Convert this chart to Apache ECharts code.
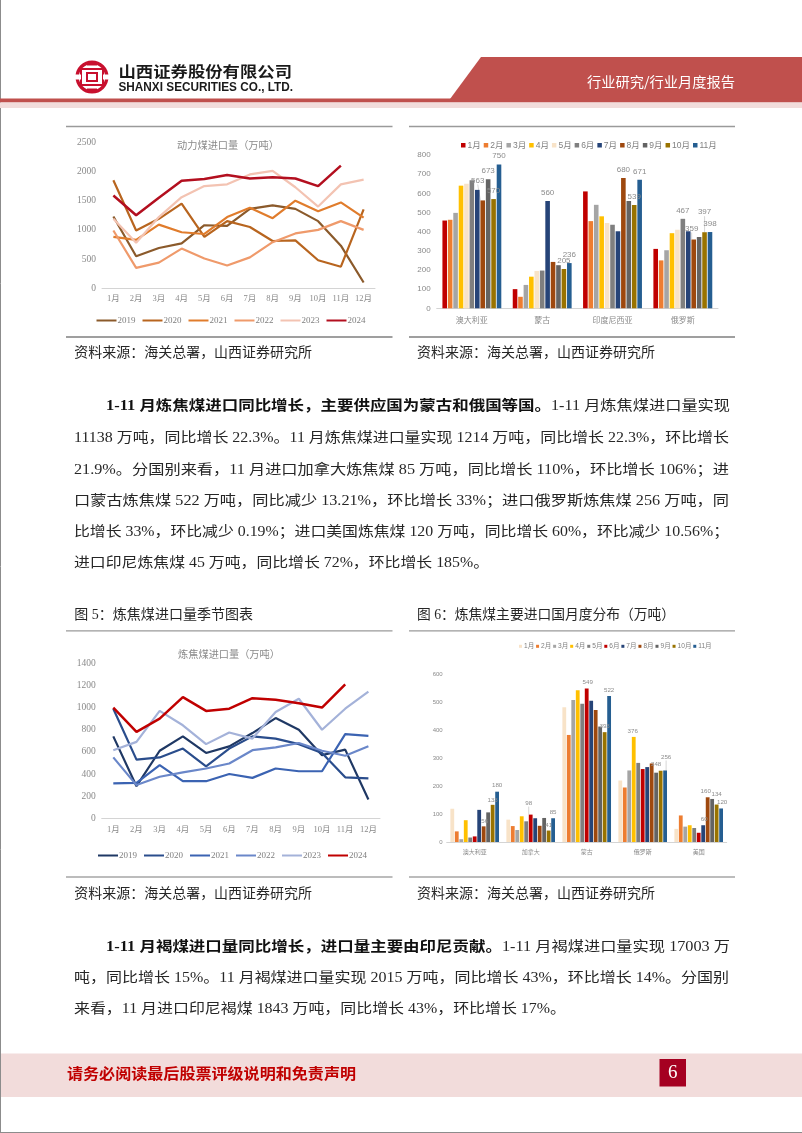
<!DOCTYPE html>
<html><head><meta charset="utf-8">
<style>html,body{margin:0;padding:0;background:#fff}#c{width:802px;height:1133px}</style>
<script src="https://cdn.jsdelivr.net/npm/echarts@6/dist/echarts.min.js"></script>
</head><body><div id="c"></div>
<script>
// ---------- data ----------
const months12 = ['1月','2月','3月','4月','5月','6月','7月','8月','9月','10月','11月','12月'];
const months11 = months12.slice(0, 11);
const years = ['2019','2020','2021','2022','2023','2024'];

const thermal2019 = [1230,550,690,770,1080,1070,1360,1420,1360,1150,730,100];
const thermal2020 = [1850,990,1190,1450,880,1150,1050,810,820,480,370,1350];
const thermal2021 = [880,830,1090,960,930,1220,1380,1200,1500,1320,1470,1210];
const thermal2022 = [990,350,440,680,510,390,530,790,940,1000,1150,1000];
const thermal2023 = [1190,780,1220,1560,1750,1780,1950,2010,1730,1400,1780,1860];
const thermal2024 = [1590,1250,1550,1840,1870,1940,1880,1900,1880,1750,2100];

const coking2019 = [740,290,610,740,590,650,770,905,800,570,620,170];
const coking2020 = [990,530,550,630,470,630,740,720,670,590,370,360];
const coking2021 = [315,320,480,335,335,400,365,450,425,425,760,745];
const coking2022 = [550,300,375,415,450,495,615,640,680,610,565,650];
const coking2023 = [615,690,970,840,670,775,720,960,1080,800,990,1145];
const coking2024 = [1000,780,900,1095,970,990,1085,1070,1040,1000,1210];

const thermalCountries = ['澳大利亚','蒙古','印度尼西亚','俄罗斯'];
const thermalAustralia = [458,462,498,640,650,668,618,563,673,570,750];
const thermalMongolia  = [100,60,122,165,195,197,560,242,225,205,236];
const thermalIndonesia = [610,455,540,480,445,436,402,680,560,539,671];
const thermalRussia    = [310,250,303,392,410,467,402,359,372,397,398];

const cokingCountries = ['澳大利亚','加拿大','蒙古','俄罗斯','美国'];
const cokingAustralia = [119,38,10,78,16,20,115,56,106,133,180];
const cokingCanada    = [80,57,43,92,74,98,85,58,86,41,85];
const cokingMongolia  = [482,383,508,543,495,549,505,472,413,393,522];
const cokingRussia    = [220,195,256,376,283,261,268,281,248,255,256];
const cokingUSA       = [47,95,55,60,50,33,60,160,154,134,120];

// ---------- styles ----------
const CJK = '"Liberation Serif","Noto Sans CJK SC"';
const SANSCJK = '"Liberation Sans","Noto Sans CJK SC"';
const GREY = '#8a8a8a';
const thermalColors = ['#8b5a2b','#b8651f','#e07c2c','#ef9a6b','#f3c3b2','#b30f1f'];
const cokingColors  = ['#1f3864','#2a4d8c','#3b63b2','#6a87c9','#a4b2d9','#c00000'];
const barColorsA = ['#c00000','#ed7d31','#a5a5a5','#ffc000','#f8e3c8','#7f7f7f','#264478','#9e480e','#636363','#997300','#255e91'];
const barColorsB = ['#f8e3c8','#ed7d31','#a5a5a5','#ffc000','#7f7f7f','#c00000','#264478','#9e480e','#636363','#997300','#255e91'];

// label placement: "series,category" -> [dx, dy, leader]
const labelsA = {'10,0':[0,-3],'7,0':[-5,-14,1],'8,0':[0,-3],'9,0':[0,-2],'6,1':[0,-2],'9,1':[0,-2],'10,1':[0,-2],
  '7,2':[0,-2],'9,2':[0,-2],'10,2':[0,-2],'5,3':[0,-2],'7,3':[-2,-5,1],'9,3':[0,-14,1],'10,3':[0,-2]};
const labelsB = {'7,0':[1,0],'9,0':[0,0],'10,0':[0,-1],'5,1':[-2,-6,1],'9,1':[0,0],'10,1':[0,-1],'5,2':[1,-1],'9,2':[0,-1],'10,2':[0,-1],
  '3,3':[-1,-1],'8,3':[0,-3],'10,3':[1,-8,1],'6,4':[1,-1],'7,4':[-2,-1],'9,4':[0,-5],'10,4':[1,-1]};

// ---------- page text helpers ----------
const mctx = document.createElement('canvas').getContext('2d');
function fit(text, x0, x1, y, size, fill, weight, family) {
  const w = weight || 'normal', fam = family || CJK;
  mctx.font = w + ' ' + size + 'px ' + fam;
  const m = mctx.measureText(text).width;
  return {type:'text', x:x0, y:y, scaleX:(x1-x0)/m, silent:true, z:10,
    style:{text:text, fontSize:size, fontWeight:w, fontFamily:fam, fill:fill||'#222', align:'left', verticalAlign:'middle'}};
}
const R = 14.1, BODY='#262626';
const pageText = [
  fit('资料来源：海关总署，山西证券研究所',74.3,312,353.5,R,BODY),
  fit('资料来源：海关总署，山西证券研究所',417,655,353.5,R,BODY),
  fit('1-11 月炼焦煤进口同比增长，主要供应国为蒙古和俄国等国。',106,551,406.5,R,'#111','bold'),
  fit('1-11 月炼焦煤进口量实现',551,730,406.5,R,BODY),
  fit('11138 万吨，同比增长 22.3%。11 月炼焦煤进口量实现 1214 万吨，同比增长 22.3%，环比增长',74,729,438,R,BODY),
  fit('21.9%。分国别来看，11 月进口加拿大炼焦煤 85 万吨，同比增长 110%，环比增长 106%；进',74,729,470,R,BODY),
  fit('口蒙古炼焦煤 522 万吨，同比减少 13.21%，环比增长 33%；进口俄罗斯炼焦煤 256 万吨，同',74,729,501,R,BODY),
  fit('比增长 33%，环比减少 0.19%；进口美国炼焦煤 120 万吨，同比增长 60%，环比减少 10.56%；',74,729,532,R,BODY),
  fit('进口印尼炼焦煤 45 万吨，同比增长 72%，环比增长 185%。',74,489,563.5,R,BODY),
  fit('图 5：炼焦煤进口量季节图表',74.3,253,615.5,R,BODY),
  fit('图 6：炼焦煤主要进口国月度分布（万吨）',417,675,615.5,R,BODY),
  fit('资料来源：海关总署，山西证券研究所',74.3,312,894,R,BODY),
  fit('资料来源：海关总署，山西证券研究所',417,655,894,R,BODY),
  fit('1-11 月褐煤进口量同比增长，进口量主要由印尼贡献。',106,502,947,R,'#111','bold'),
  fit('1-11 月褐煤进口量实现 17003 万',502,730,947,R,BODY),
  fit('吨，同比增长 15%。11 月褐煤进口量实现 2015 万吨，同比增长 43%，环比增长 14%。分国别',74,729,978.5,R,BODY),
  fit('来看，11 月进口印尼褐煤 1843 万吨，同比增长 43%，环比增长 17%。',74,566,1009.5,R,BODY),
  // header + footer text
  fit('山西证券股份有限公司',118.5,292,71.5,15,'#1a1a1a','bold','"Noto Sans CJK SC"'),
  fit('SHANXI SECURITIES CO., LTD.',118.5,293,88,12,'#1a1a1a','bold','"Liberation Sans"'),
  fit('行业研究/行业月度报告',587,735,81.5,13.5,'#ffffff','normal','"Noto Sans CJK SC"'),
  fit('请务必阅读最后股票评级说明和免责声明',67,356,1073.5,15,'#c00000','bold','"Noto Sans CJK SC"'),
  {type:'text',x:672.8,y:1073,silent:true,z:11,style:{text:'6',fontSize:19,fontFamily:'"Liberation Serif"',fill:'#fff',align:'center',verticalAlign:'middle'}}
];

function rect(x,y,w,h,fill){return {type:'rect',silent:true,z:1,shape:{x:x,y:y,width:w,height:h},style:{fill:fill}};}
function rule(x0,x1,y,c,lw){return {type:'line',silent:true,z:1,shape:{x1:x0,y1:y,x2:x1,y2:y},style:{stroke:c||'#9a9a9a',lineWidth:lw||1.3}};}
const LOGO = '#c8102e';
const pageShapes = [
  // page edge
  {type:'line',silent:true,z:1,shape:{x1:0.5,y1:0,x2:0.5,y2:1133},style:{stroke:'#8c8c8c',lineWidth:1}},
  rule(0,802,1132.5,'#8c8c8c',1),
  // header band
  {type:'polygon',silent:true,z:1,shape:{points:[[481,57],[802,57],[802,99],[450,99]]},style:{fill:'#c0504d'}},
  rect(0,98.5,802,4,'#c0504d'),
  rect(0,102.5,802,5.5,'#f2dcdb'),
  // logo
  {type:'circle',silent:true,z:2,shape:{cx:92,cy:77,r:14.8},style:{fill:'none',stroke:LOGO,lineWidth:3.4}},
  {type:'rect',silent:true,z:3,shape:{x:74,y:74.5,width:7,height:5},style:{fill:'#ffffff'}},
  {type:'rect',silent:true,z:3,shape:{x:103,y:74.5,width:7,height:5},style:{fill:'#ffffff'}},
  rect(82,68,20,2,LOGO),
  rect(87,63.5,10,2,LOGO),
  rect(87,88.5,10,2,LOGO),
  rect(82,84,20,2,LOGO),
  rect(80,68,2,18,LOGO),
  rect(102,68,2,18,LOGO),
  {type:'rect',silent:true,z:3,shape:{x:87,y:73,width:10,height:8},style:{fill:'none',stroke:LOGO,lineWidth:2}},
  // footer
  rect(1,1053.5,801,43.5,'#f2dcdb'),
  rect(659.5,1059,26.5,27.5,'#a50021'),
  // figure rules
  rule(66,392.5,126.5), rule(409,735,126.5),
  rule(66,392.5,337,'#7f7f7f',1.6), rule(409,735,337,'#7f7f7f',1.6),
  rule(66,392.5,630.8), rule(409,735,630.8),
  rule(66,392.5,877,'#a6a6a6'), rule(409,735,877,'#a6a6a6')
];

// ---------- chart builders ----------
const grids=[], xAxes=[], yAxes=[], legends=[], titles=[], series=[];
function addPanel(g, cats, vmax, step, opt) {
  const i = grids.length;
  grids.push({left:g[0], top:g[2], width:g[1]-g[0], height:g[3]-g[2], containLabel:false});
  xAxes.push({type:'category', gridIndex:i, data:cats,
    axisLine:{lineStyle:{color:'#d4d4d4',width:1}}, axisTick:{show:false},
    axisLabel:{color:GREY, fontSize:opt.xSize, fontFamily:opt.family, interval:0, margin:opt.xMargin}});
  yAxes.push({type:'value', gridIndex:i, min:0, max:vmax, interval:step,
    splitLine:{show:false}, axisLine:{show:false}, axisTick:{show:false},
    axisLabel:{color:GREY, fontSize:opt.ySize, fontFamily:opt.family, margin:opt.yMargin, formatter:v=>String(v)}});
  return i;
}
function addLines(i, arrays, colors, wid) {
  years.forEach((y,k)=>series.push({type:'line', name:y, xAxisIndex:i, yAxisIndex:i, data:arrays[k], symbol:'none', smooth:false,
    lineStyle:{color:colors[k], width:k===5?wid+0.3:wid}, itemStyle:{color:colors[k]}, z:k+2, silent:true, animation:false}));
}
function addBars(i, arrays, colors, map, bw, fs) {
  months11.forEach((m,s)=>{
    series.push({type:'bar', name:m, xAxisIndex:i, yAxisIndex:i, barWidth:bw, barGap:'18%', silent:true, animation:false,
      itemStyle:{color:colors[s]},
      labelLine:{show:false, lineStyle:{color:'#c4c4c4',width:0.7}},
      labelLayout:p=>{const e=map[s+','+p.dataIndex]; return e?{dx:e[0],dy:e[1]}:{};},
      data:arrays.map((a,c)=>{
        const e=map[s+','+c];
        return {value:a[s], label:{show:!!e, position:'top', distance:2, color:'#8c8c8c', fontSize:fs, fontFamily:'"Liberation Sans"'},
          labelLine:{show:!!(e&&e[2])}};
      })});
  });
}

const p0 = addPanel([102,375,142.3,288.3], months12, 2500, 500, {xSize:8.5,ySize:9.5,family:CJK,xMargin:6,yMargin:6});
addLines(p0,[thermal2019,thermal2020,thermal2021,thermal2022,thermal2023,thermal2024],thermalColors,2.2);
const p1 = addPanel([436.7,718,155,308.3], thermalCountries, 800, 100, {xSize:8,ySize:8,family:SANSCJK,xMargin:8,yMargin:6});
addBars(p1,[thermalAustralia,thermalMongolia,thermalIndonesia,thermalRussia],barColorsA,labelsA,4.6,8);
const p2 = addPanel([101.7,380,663.3,818.3], months12, 1400, 200, {xSize:8.5,ySize:9.5,family:CJK,xMargin:7,yMargin:6});
addLines(p2,[coking2019,coking2020,coking2021,coking2022,coking2023,coking2024],cokingColors,2.2);
const p3 = addPanel([446.7,726.7,674.3,842], cokingCountries, 600, 100, {xSize:6,ySize:6,family:SANSCJK,xMargin:7,yMargin:4});
addBars(p3,[cokingAustralia,cokingCanada,cokingMongolia,cokingRussia,cokingUSA],barColorsB,labelsB,3.8,6.2);

function lineLegend(left,top,colors){
  return {show:true,left:left,top:top,itemWidth:20,itemHeight:2,itemGap:7,padding:0,selectedMode:false,
    textStyle:{color:'#7f7f7f',fontSize:9,fontFamily:CJK,padding:[0,0,0,-4]},
    data:years.map((y,k)=>({name:y,icon:'rect',itemStyle:{color:colors[k]}}))};
}
function barLegend(left,top,colors,size,fs,gap){
  return {show:true,left:left,top:top,itemWidth:size,itemHeight:size,itemGap:gap,padding:0,selectedMode:false,
    textStyle:{color:'#7f7f7f',fontSize:fs,fontFamily:SANSCJK,padding:[0,0,0,-3]},
    data:months11.map((m,k)=>({name:m,icon:'rect',itemStyle:{color:colors[k]}}))};
}
legends.push(lineLegend(96.5,316,thermalColors));
legends.push(barLegend(461,141,barColorsA,4.5,8.5,3));
legends.push(lineLegend(98,851,cokingColors));
legends.push(barLegend(519,643,barColorsB,3,6.6,1.8));

function chartTitle(text,x,y){return {text:text,left:x,top:y,textAlign:'center',padding:0,
  textStyle:{color:GREY,fontSize:10.2,fontWeight:'normal',fontFamily:'"Noto Sans CJK SC"'}};}
titles.push(chartTitle('动力煤进口量（万吨）',228,140));
titles.push(chartTitle('炼焦煤进口量（万吨）',229,649));

const chart = echarts.init(document.getElementById('c'), null, {renderer:'canvas'});
chart.setOption({
  animation:false, backgroundColor:'#ffffff',
  title:titles, grid:grids, xAxis:xAxes, yAxis:yAxes, legend:legends, series:series,
  tooltip:{show:false},
  graphic:{elements:pageShapes.concat(pageText)}
});
</script></body></html>
